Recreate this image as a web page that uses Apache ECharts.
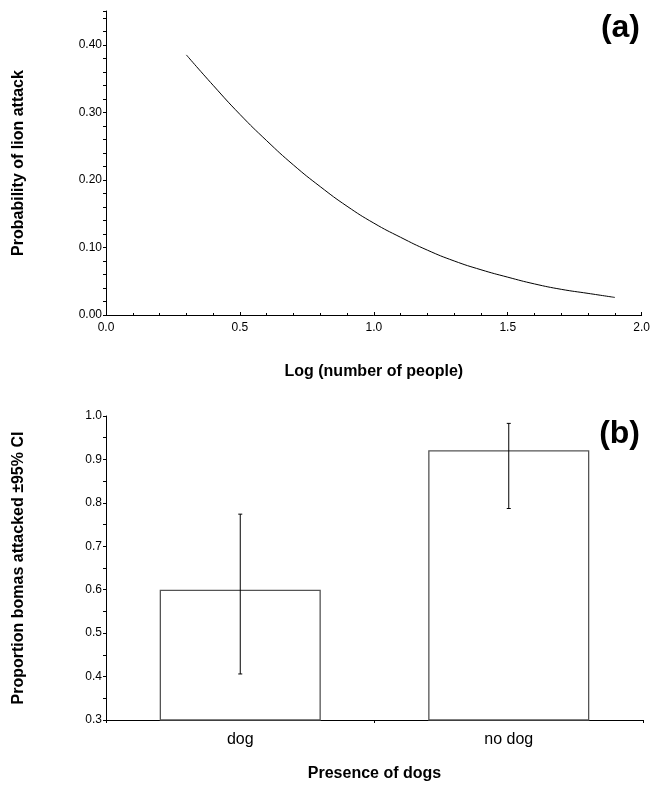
<!DOCTYPE html>
<html>
<head>
<meta charset="utf-8">
<script src="https://cdn.jsdelivr.net/npm/echarts@6/dist/echarts.min.js"></script>
<style>
html,body{margin:0;padding:0;background:#fff;}
#c{width:653px;height:788px;}
</style>
</head>
<body>
<div id="c"></div>
<script>
// Panel (a): fitted probability of lion attack vs log(number of people)
var logPeople = [0.3, 0.4, 0.5, 0.6, 0.7, 0.8, 0.9, 1.0, 1.1, 1.2, 1.3, 1.4, 1.5, 1.6, 1.7, 1.8, 1.9];
var attackProb = [0.385, 0.340, 0.297, 0.258, 0.222, 0.190, 0.161, 0.136, 0.115, 0.096, 0.080, 0.067, 0.056, 0.046, 0.038, 0.032, 0.026];

// Panel (b): proportion of bomas attacked with 95% CI
var dogCategories = ['dog', 'no dog'];
var propAttacked = [0.60, 0.921];
var ciLow = [0.406, 0.787];
var ciHigh = [0.774, 0.983];

var linePts = logPeople.map(function (x, i) { return [x, attackProb[i]]; });
var errData = dogCategories.map(function (c, i) { return [i, ciLow[i], ciHigh[i]]; });

var FONT = 'Liberation Sans, Arial, sans-serif';
var tickLbl = { color: '#000', fontSize: 12, fontFamily: FONT };
var nameStyle = { color: '#000', fontSize: 16, fontWeight: 'bold', fontFamily: FONT };
var axLine = { show: true, lineStyle: { color: '#000', width: 1 } };

var chart = echarts.init(document.getElementById('c'), null, { renderer: 'canvas' });
chart.setOption({
  backgroundColor: '#fff',
  animation: false,
  grid: [
    { left: 106, width: 537, top: 11, height: 304 },
    { left: 106, width: 537, top: 416, height: 304 }
  ],
  xAxis: [
    {
      gridIndex: 0, type: 'value', min: 0, max: 2, interval: 0.5,
      axisLine: axLine,
      axisTick: { show: true, inside: true, length: 3, lineStyle: { color: '#000' } },
      minorTick: { show: true, splitNumber: 5, length: 2, lineStyle: { color: '#000' } },
      splitLine: { show: false },
      axisLabel: Object.assign({ margin: 7, formatter: function (v) { return v.toFixed(1); } }, tickLbl),
      name: 'Log (number of people)', nameLocation: 'middle', nameGap: 49,
      nameTextStyle: nameStyle
    },
    {
      gridIndex: 1, type: 'category', data: dogCategories,
      axisLine: axLine,
      axisTick: { show: true, length: 3, lineStyle: { color: '#000' } },
      splitLine: { show: false },
      axisLabel: { color: '#000', fontSize: 16, fontFamily: FONT, margin: 12 },
      name: 'Presence of dogs', nameLocation: 'middle', nameGap: 46,
      nameTextStyle: nameStyle
    }
  ],
  yAxis: [
    {
      gridIndex: 0, type: 'value', min: 0, max: 0.45, interval: 0.02,
      axisLine: axLine,
      axisTick: { show: true, length: 3, lineStyle: { color: '#000' } },
      splitLine: { show: false },
      axisLabel: Object.assign({
        margin: 4,
        formatter: function (v) {
          var k = v * 10;
          if (Math.abs(k - Math.round(k)) < 1e-6 && v <= 0.4 + 1e-9) return v.toFixed(2);
          return '';
        }
      }, tickLbl),
      name: 'Probability of lion attack', nameLocation: 'middle', nameGap: 79, nameRotate: 90,
      nameTextStyle: nameStyle
    },
    {
      gridIndex: 1, type: 'value', min: 0.3, max: 1.0, interval: 0.1,
      axisLine: axLine,
      axisTick: { show: true, length: 3, lineStyle: { color: '#000' } },
      minorTick: { show: true, splitNumber: 2, length: 3, lineStyle: { color: '#000' } },
      splitLine: { show: false },
      axisLabel: Object.assign({ margin: 4, formatter: function (v) { return v.toFixed(1); } }, tickLbl),
      name: 'Proportion bomas attacked \u00b195% CI', nameLocation: 'middle', nameGap: 79, nameRotate: 90,
      nameTextStyle: nameStyle
    }
  ],
  graphic: [
    { type: 'text', right: 13, top: 12, style: { text: '(a)', fill: '#000', font: 'bold 32px ' + FONT } },
    { type: 'text', right: 13, top: 418, style: { text: '(b)', fill: '#000', font: 'bold 32px ' + FONT } }
  ],
  series: [
    {
      type: 'line', xAxisIndex: 0, yAxisIndex: 0, data: linePts,
      smooth: true, showSymbol: false, symbol: 'none',
      lineStyle: { color: '#000', width: 1 }
    },
    {
      type: 'bar', xAxisIndex: 1, yAxisIndex: 1, data: propAttacked,
      barWidth: '60%',
      itemStyle: { color: '#fff', borderColor: '#555', borderWidth: 1.3 }
    },
    {
      type: 'custom', xAxisIndex: 1, yAxisIndex: 1, data: errData,
      z: 10,
      renderItem: function (params, api) {
        var x = api.value(0);
        var lo = api.coord([x, api.value(1)]);
        var hi = api.coord([x, api.value(2)]);
        var w = 2;
        var st = { stroke: '#000', lineWidth: 1 };
        return {
          type: 'group',
          children: [
            { type: 'line', shape: { x1: lo[0], y1: lo[1], x2: hi[0], y2: hi[1] }, style: st },
            { type: 'line', shape: { x1: lo[0] - w, y1: lo[1], x2: lo[0] + w, y2: lo[1] }, style: st },
            { type: 'line', shape: { x1: hi[0] - w, y1: hi[1], x2: hi[0] + w, y2: hi[1] }, style: st }
          ]
        };
      }
    }
  ]
});
</script>
</body>
</html>
